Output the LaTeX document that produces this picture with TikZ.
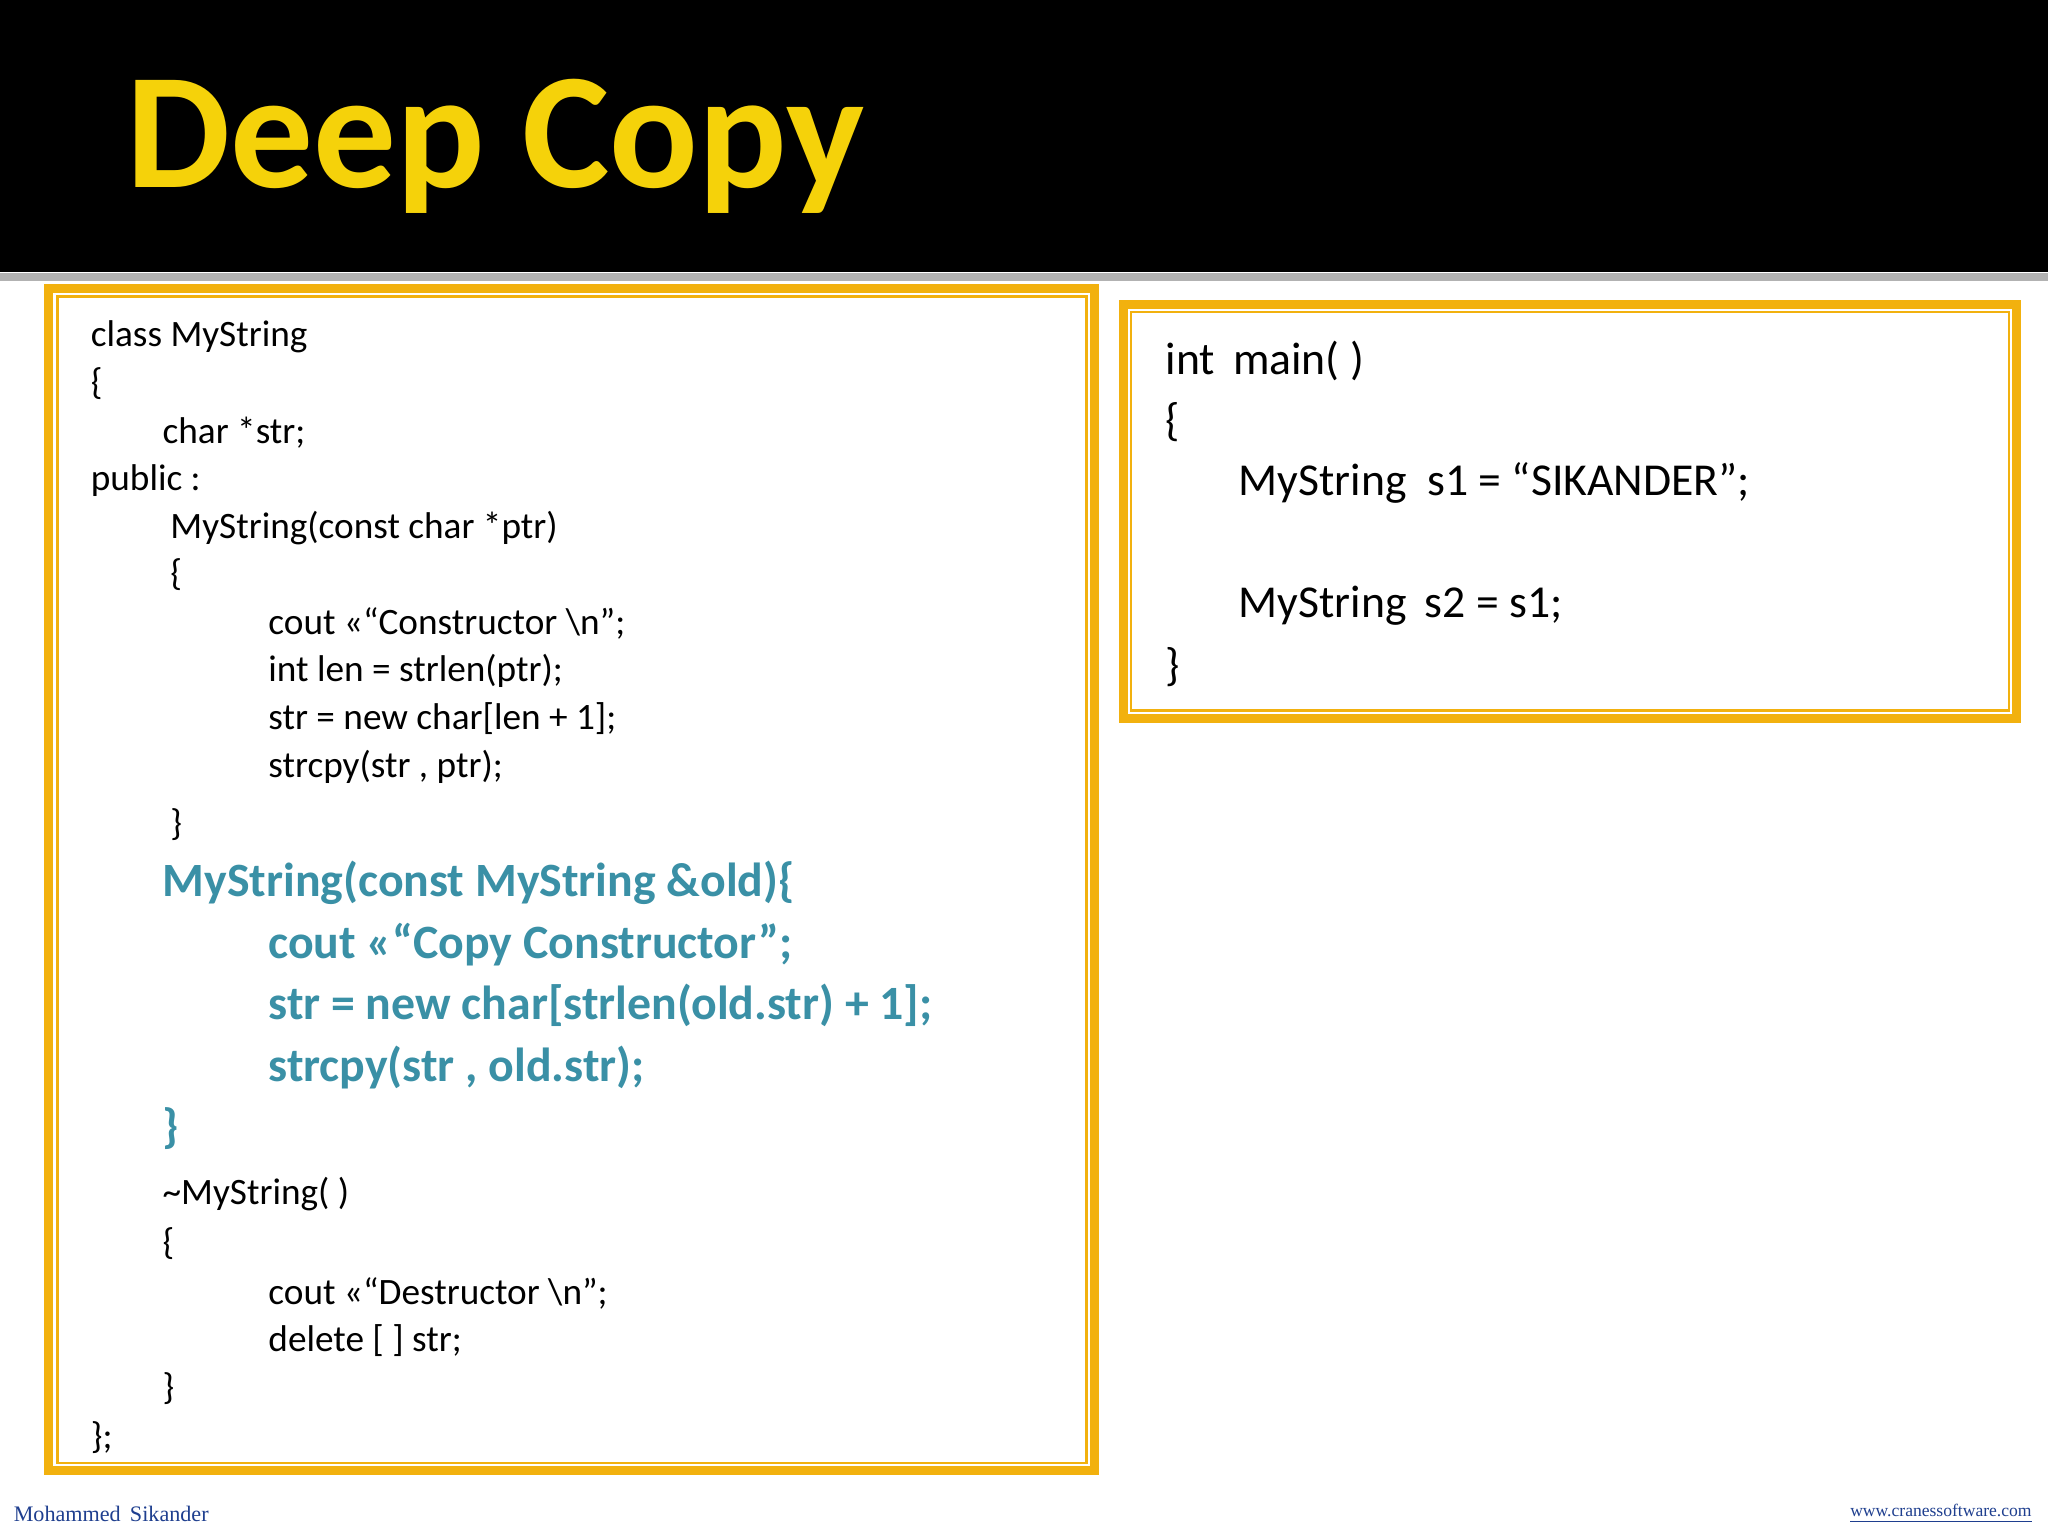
\documentclass[tikz,border=0pt]{standalone}
\usepackage{fontspec}
\setmainfont{Carlito}
\newfontfamily\serifft{Liberation Serif}
\definecolor{boxor}{HTML}{F2B10E}
\definecolor{teal}{HTML}{3A90A6}
\definecolor{titley}{HTML}{F5D20A}
\definecolor{footblue}{HTML}{1F3F8F}
\tikzset{
 code/.style={anchor=west,inner sep=0pt,font=\fontsize{10.6pt}{12pt}\selectfont},
 hcode/.style={anchor=west,inner sep=0pt,font=\fontsize{13.6pt}{15pt}\selectfont\bfseries,text=teal},
 mcode/.style={anchor=west,inner sep=0pt,font=\fontsize{13pt}{15pt}\selectfont},
}
\begin{document}
\begin{tikzpicture}[x=0.013061cm,y=-0.013061cm]
\useasboundingbox (0,0) rectangle (1568,1176);
\fill[white] (0,0) rectangle (1568,1176);
\fill[black] (0,0) rectangle (1568,208);
\fill[gray!60] (0,209) rectangle (1568,215);
\node[anchor=west,inner sep=0pt,text=titley,font=\fontsize{47pt}{50pt}\selectfont\bfseries] (title) at (96,112) {Deep Copy};
% left box
\draw[boxor,line width=2.6pt] (37,221) rectangle (838,1126);
\draw[boxor,line width=0.7pt] (44,227) rectangle (832,1120);
% right box
\draw[boxor,line width=2.6pt] (860,233) rectangle (1544,550);
\draw[boxor,line width=0.7pt] (866,239) rectangle (1538,544);
% left code
\node[code] (l1) at (69,258) {class MyString};
\node[code] (l2) at (69,294) {\{};
\node[code] (l3) at (124,331) {char *str;};
\node[code] (l4) at (69,368) {public :};
\node[code] (l5) at (130,404) {MyString(const char *ptr)};
\node[code] (l6) at (130,440) {\{};
\node[code] (l7) at (205,477) {cout <<“Constructor \textbackslash n”;};
\node[code] (l8) at (205,514) {int len = strlen(ptr);};
\node[code] (l9) at (205,550) {str = new char[len + 1];};
\node[code] (l10) at (205,587) {strcpy(str , ptr);};
\node[code] (l11) at (130,631) {\}};
\node[hcode] (h1) at (124,676) {MyString(const MyString \&old)\{};
\node[hcode] (h2) at (205,723) {cout <<“Copy Constructor”;};
\node[hcode] (h3) at (205,770) {str = new char[strlen(old.str) + 1];};
\node[hcode] (h4) at (205,817) {strcpy(str , old.str);};
\node[hcode] (h5) at (124,864) {\}};
\node[code] (l12) at (124,914) {\textasciitilde MyString( )};
\node[code] (l13) at (124,952) {\{};
\node[code] (l14) at (205,990) {cout <<“Destructor \textbackslash n”;};
\node[code] (l15) at (205,1026) {delete [ ] str;};
\node[code] (l16) at (124,1063) {\}};
\node[code] (l17) at (69,1101) {\};};
% right code
\node[mcode] (m1) at (892,276) {int\, main( )};
\node[mcode] (m2) at (892,323) {\{};
\node[mcode] (m3) at (948,370) {MyString \ s1 = “SIKANDER”;};
\node[mcode] (m4) at (948,464) {MyString\, s2 = s1;};
\node[mcode] (m5) at (892,511) {\}};
% footer
\node[anchor=west,inner sep=0pt,text=footblue,font=\fontsize{6.3pt}{7pt}\serifft] (f1) at (10,1159) {Mohammed\, Sikander};
\node[anchor=east,inner sep=0pt,text=footblue,font=\fontsize{5pt}{6pt}\serifft] (f2) at (1556,1159) {\underline{www.cranessoftware.com}};
\end{tikzpicture}
\end{document}
